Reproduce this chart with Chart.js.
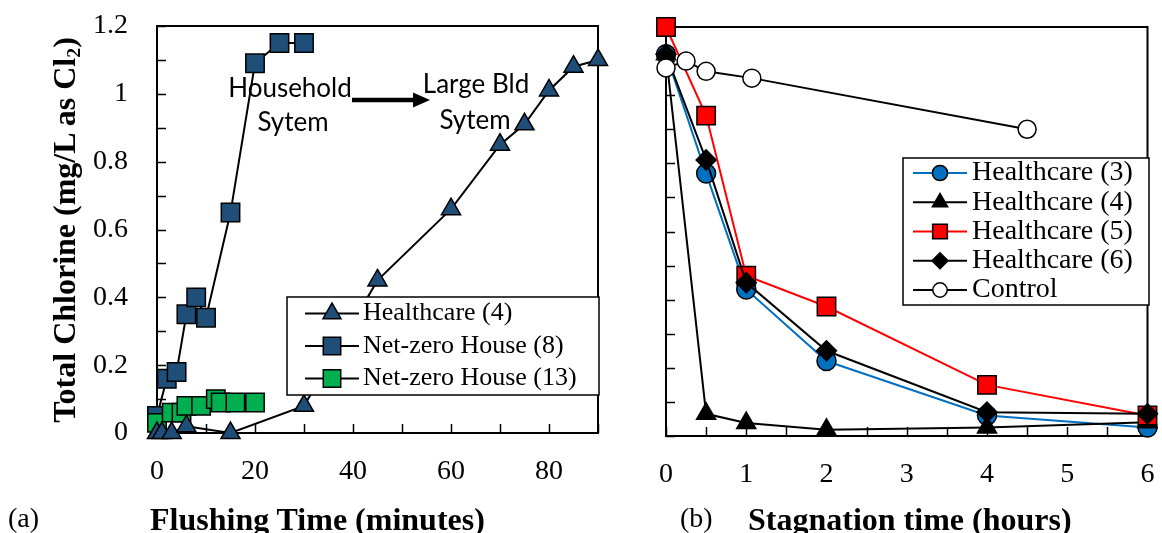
<!DOCTYPE html>
<html>
<head>
<meta charset="utf-8">
<script src="https://cdn.jsdelivr.net/npm/chart.js@4.4.1/dist/chart.umd.min.js"></script>
<style>
  body { margin: 0; background: #fff; }
  #wrap { position: relative; width: 1162px; height: 533px; overflow: hidden; background: #fff; }
  canvas { position: absolute; top: 0; }
  .t { position: absolute; font-family: 'Liberation Serif', 'Times New Roman', serif; color: #000; line-height: 1; white-space: nowrap; }
  .b { font-weight: bold; font-size: 32px; }
  sub { font-size: 0.62em; line-height: 0; vertical-align: -0.25em; }
</style>
</head>
<body>
<div id="wrap">
  <canvas id="chartA" width="640" height="533" style="left:0"></canvas>
  <canvas id="chartB" width="522" height="533" style="left:640px"></canvas>
  <div class="t b" style="left:-186px; top:214px; width:500px; text-align:center; transform:rotate(-90deg);">Total Chlorine (mg/L as Cl<sub>2</sub>)</div>
  <div class="t" style="left:8px; top:504px; font-size:28px;">(a)</div>
  <div class="t b" style="left:150px; top:503px;">Flushing Time (minutes)</div>
  <div class="t" style="left:680px; top:504px; font-size:28px;">(b)</div>
  <div class="t b" style="left:748px; top:503px;">Stagnation time (hours)</div>
</div>
<script>
// ---- panel (a): flushing ----
var hc4Time = [0, 1, 3, 6, 15, 30, 45, 60, 70, 75, 80, 85, 90];
var hc4Cl   = [0, 0, 0, 0.02, 0, 0.08, 0.45, 0.66, 0.85, 0.91, 1.01, 1.08, 1.10];
var nz8Time = [0, 2, 4, 6, 8, 10, 15, 20, 25, 30];
var nz8Cl   = [0.05, 0.16, 0.18, 0.35, 0.40, 0.34, 0.65, 1.09, 1.15, 1.15];
var nz13Time = [0, 3, 5, 6, 9, 12, 13, 16, 20];
var nz13Cl   = [0.03, 0.06, 0.06, 0.08, 0.08, 0.10, 0.09, 0.09, 0.09];
var labelsA = ['Healthcare (4)', 'Net-zero House (8)', 'Net-zero House (13)'];

// ---- panel (b): stagnation ----
var stagTime = [0, 0.5, 1, 2, 4, 6];
var hc3 = [1.12, 0.77, 0.43, 0.22, 0.06, 0.025];
var hc4 = [1.12, 0.065, 0.038, 0.018, 0.025, 0.04];
var hc5 = [1.20, 0.94, 0.47, 0.38, 0.15, 0.06];
var hc6 = [1.12, 0.81, 0.45, 0.25, 0.07, 0.065];
var ctrlTime = [0, 0.25, 0.5, 1.07, 4.5];
var ctrl     = [1.08, 1.10, 1.07, 1.05, 0.90];
var labelsB = ['Healthcare (3)', 'Healthcare (4)', 'Healthcare (5)', 'Healthcare (6)', 'Control'];

var navy = '#1F4E79', green = '#00B050', blue = '#0070C0', red = '#FF0000';
var serif = "'Liberation Serif', 'Times New Roman', serif";

function pts(xs, ys) {
  return xs.map(function (x, i) { return { x: x, y: ys[i] }; });
}

function series(label, xs, ys, line, fill, style, r, order) {
  return {
    label: label, data: pts(xs, ys), showLine: true,
    borderColor: line, borderWidth: 2,
    pointBackgroundColor: fill, pointBorderColor: '#000', pointBorderWidth: 1.5,
    pointStyle: style, pointRadius: r, pointHoverRadius: r,
    clip: false, order: order
  };
}

// fixed axis box sizes, no label overflow padding
function fixSize(w, h) {
  return function (s) {
    if (w !== null) s.width = w;
    if (h !== null) s.height = h;
    s.paddingTop = 0; s.paddingBottom = 0; s.paddingLeft = 0; s.paddingRight = 0;
  };
}

// frame + inward ticks
var frameTicks = {
  id: 'frameTicks',
  beforeDatasetsDraw: function (chart) {
    var ctx = chart.ctx, a = chart.chartArea, x = chart.scales.x, y = chart.scales.y;
    ctx.save();
    ctx.strokeStyle = '#000';
    ctx.lineWidth = 1.5;
    ctx.beginPath();
    x.ticks.forEach(function (t) {
      var px = Math.round(x.getPixelForValue(t.value)) + 0.5;
      ctx.moveTo(px, a.bottom); ctx.lineTo(px, a.bottom - 9);
    });
    y.ticks.forEach(function (t) {
      var py = Math.round(y.getPixelForValue(t.value)) + 0.5;
      ctx.moveTo(a.left, py); ctx.lineTo(a.left + 9, py);
    });
    ctx.stroke();
    ctx.lineWidth = 2;
    ctx.strokeRect(a.left, a.top, a.right - a.left, a.bottom - a.top);
    ctx.restore();
  }
};

// boxed legend with line + marker
var boxLegend = {
  id: 'boxLegend',
  afterDraw: function (chart, args, o) {
    if (!o || !o.w) return;
    var ctx = chart.ctx;
    ctx.save();
    ctx.fillStyle = '#fff';
    ctx.fillRect(o.x, o.y, o.w, o.h);
    ctx.strokeStyle = '#000';
    ctx.lineWidth = 1.5;
    ctx.strokeRect(o.x, o.y, o.w, o.h);
    chart.data.datasets.forEach(function (ds, i) {
      var cy = o.y0 + i * o.step;
      ctx.strokeStyle = ds.borderColor;
      ctx.lineWidth = ds.borderWidth;
      ctx.beginPath();
      ctx.moveTo(o.l0, cy); ctx.lineTo(o.l1, cy);
      ctx.stroke();
      ctx.fillStyle = ds.pointBackgroundColor;
      ctx.strokeStyle = ds.pointBorderColor;
      ctx.lineWidth = ds.pointBorderWidth;
      Chart.helpers.drawPoint(ctx, { pointStyle: ds.pointStyle, radius: ds.pointRadius * o.scale, borderWidth: ds.pointBorderWidth, rotation: 0 }, (o.l0 + o.l1) / 2, cy);
      ctx.fillStyle = '#000';
      ctx.font = o.size + 'px ' + serif;
      ctx.textBaseline = 'middle';
      ctx.textAlign = 'left';
      ctx.fillText(ds.label, o.tx, cy);
    });
    ctx.restore();
  }
};

// text notes and arrow in panel (a)
var notesA = {
  id: 'notesA',
  afterDatasetsDraw: function (chart) {
    var ctx = chart.ctx;
    ctx.save();
    ctx.fillStyle = '#000';
    ctx.font = "26px Lato, 'Open Sans', sans-serif";
    ctx.textAlign = 'center';
    ctx.textBaseline = 'alphabetic';
    ctx.fillText('Household', 290, 97);
    ctx.fillText('Sytem', 293, 131);
    ctx.fillText('Large Bld', 476, 93);
    ctx.fillText('Sytem', 475, 129);
    ctx.strokeStyle = '#000';
    ctx.lineWidth = 4.5;
    ctx.beginPath();
    ctx.moveTo(352, 100); ctx.lineTo(416, 100);
    ctx.stroke();
    ctx.beginPath();
    ctx.moveTo(413, 92.5); ctx.lineTo(430, 100); ctx.lineTo(413, 107.5);
    ctx.closePath();
    ctx.fill();
    ctx.restore();
  }
};

function tickFont() { return { family: serif, size: 28 }; }

new Chart(document.getElementById('chartA'), {
  type: 'scatter',
  data: {
    datasets: [
      series(labelsA[0], hc4Time, hc4Cl, '#000', navy, 'triangle', 11, 0),
      series(labelsA[1], nz8Time, nz8Cl, '#000', navy, 'rect', 13, 2),
      series(labelsA[2], nz13Time, nz13Cl, '#000', green, 'rect', 13, 1)
    ]
  },
  options: {
    responsive: false, animation: false, devicePixelRatio: 1,
    layout: { padding: { left: 0, top: 26, right: 42, bottom: 0 } },
    plugins: {
      legend: { display: false }, tooltip: { enabled: false },
      boxLegend: { x: 287, y: 297, w: 312, h: 98, y0: 313.5, step: 32.5, l0: 305, l1: 359, tx: 363, size: 26, scale: 0.95 }
    },
    scales: {
      x: {
        type: 'linear', min: 0, max: 90,
        afterFit: fixSize(null, 100),
        grid: { display: false, drawTicks: false }, border: { display: false },
        ticks: { stepSize: 10, autoSkip: false, maxRotation: 0, padding: 22, color: '#000', font: tickFont(),
          callback: function (v) { return v % 20 === 0 ? v : ''; } }
      },
      y: {
        min: 0, max: 1.2,
        afterFit: fixSize(157, null),
        grid: { display: false, drawTicks: false }, border: { display: false },
        ticks: { stepSize: 0.1, autoSkip: false, padding: 29, color: '#000', font: tickFont(),
          callback: function (v) { var k = Math.round(v * 10); return k % 2 === 0 ? String(k / 10) : ''; } }
      }
    }
  },
  plugins: [frameTicks, notesA, boxLegend]
});

new Chart(document.getElementById('chartB'), {
  type: 'scatter',
  data: {
    datasets: [
      series(labelsB[0], stagTime, hc3, blue, blue, 'circle', 9.5, 4),
      series(labelsB[1], stagTime, hc4, '#000', '#000', 'triangle', 11, 3),
      series(labelsB[2], stagTime, hc5, red, red, 'rect', 13, 2),
      series(labelsB[3], stagTime, hc6, '#000', '#000', 'rectRot', 10, 1),
      series(labelsB[4], ctrlTime, ctrl, '#000', '#fff', 'circle', 9, 0)
    ]
  },
  options: {
    responsive: false, animation: false, devicePixelRatio: 1,
    layout: { padding: { left: 0, top: 27, right: 10, bottom: 0 } },
    plugins: {
      legend: { display: false }, tooltip: { enabled: false },
      boxLegend: { x: 263, y: 158, w: 246, h: 147, y0: 173, step: 29.25, l0: 273, l1: 327, tx: 332, size: 28, scale: 0.8 }
    },
    scales: {
      x: {
        type: 'linear', min: 0, max: 6,
        afterFit: fixSize(null, 97),
        grid: { display: false, drawTicks: false }, border: { display: false },
        ticks: { stepSize: 0.5, autoSkip: false, maxRotation: 0, padding: 22, color: '#000', font: tickFont(),
          callback: function (v) { return Number.isInteger(v) ? v : ''; } }
      },
      y: {
        min: 0, max: 1.2,
        afterFit: fixSize(26, null),
        grid: { display: false, drawTicks: false }, border: { display: false },
        ticks: { stepSize: 0.1, autoSkip: false, display: false }
      }
    }
  },
  plugins: [frameTicks, boxLegend]
});
</script>
</body>
</html>
